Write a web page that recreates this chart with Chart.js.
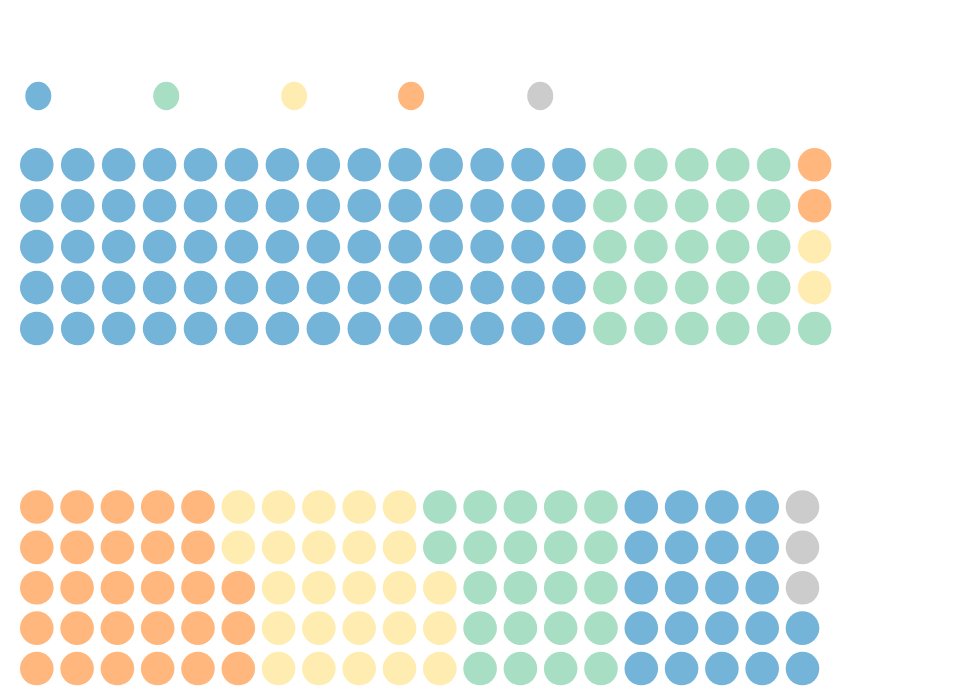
<!DOCTYPE html>
<html>
<head>
<meta charset="utf-8">
<title>Waffle</title>
<script src="https://cdn.jsdelivr.net/npm/chart.js@4"></script>
<style>
  html, body { margin: 0; padding: 0; background: #fff; }
  #wrap { position: relative; width: 980px; height: 700px; }
  .box { position: absolute; left: 0; width: 980px; }
  #topBox { top: 0; height: 349px; }
  #bottomBox { top: 480px; height: 220px; }
</style>
</head>
<body>
<div id="wrap">
  <div class="box" id="topBox"><canvas id="topChart"></canvas></div>
  <div class="box" id="bottomBox"><canvas id="bottomChart"></canvas></div>
</div>
<script>
// --- data ---
const categories = ["Group A", "Group B", "Neutral", "Group D", "Unknown"];
const colors = ["#74b4d8", "#a8dec4", "#ffecb0", "#ffb77d", "#cccccc"];
const topCounts = [70, 26, 2, 2, 0];
const bottomCounts = [22, 22, 25, 28, 3];
// fill order of categories (column by column, bottom to top)
const topOrder = [0, 1, 2, 3, 4];
const bottomOrder = [3, 2, 1, 0, 4];
const ROWS = 5;
const COLS = 20;

// --- turn counts into waffle cells ---
function buildDatasets(counts, order) {
  const cells = categories.map(() => []);
  let i = 0;
  order.forEach((c) => {
    for (let k = 0; k < counts[c]; k++) {
      const col = Math.floor(i / ROWS);
      const row = ROWS - 1 - (i % ROWS);
      cells[c].push({ x: col, y: row });
      i++;
    }
  });
  return categories.map((name, c) => ({
    label: name,
    data: cells[c],
    backgroundColor: colors[c],
    borderColor: colors[c],
    pointBackgroundColor: colors[c],
    pointBorderWidth: 0,
    borderWidth: 0,
    pointRadius: 16.8,
    pointStyle: "circle",
    clip: false,
  }));
}

function makeChart(id, counts, order, opts) {
  return new Chart(document.getElementById(id), {
    type: "scatter",
    data: { datasets: buildDatasets(counts, order) },
    options: {
      responsive: true,
      maintainAspectRatio: false,
      animation: false,
      events: [],
      layout: { autoPadding: false, padding: opts.padding },
      scales: {
        x: { type: "linear", display: false, min: -0.5, max: COLS - 0.5 },
        y: { type: "linear", display: false, reverse: true, min: opts.yMin, max: ROWS - 0.5 },
      },
      plugins: {
        tooltip: { enabled: false },
        legend: {
          display: opts.legend,
          position: "top",
          align: "start",
          labels: {
            usePointStyle: true,
            pointStyle: "circle",
            pointStyleWidth: 26,
            boxHeight: 20,
            padding: 9,
            color: "#ffffff",
            font: { size: 22 },
          },
        },
      },
    },
  });
}

makeChart("topChart", topCounts, topOrder, {
  legend: true,
  yMin: -1.167,
  padding: { left: 16.3, right: 144.9, top: 76, bottom: 0 },
});

makeChart("bottomChart", bottomCounts, bottomOrder, {
  legend: false,
  yMin: -0.5,
  padding: { left: 16.65, right: 157.35, top: 6.8, bottom: 11.3 },
});
</script>
</body>
</html>
